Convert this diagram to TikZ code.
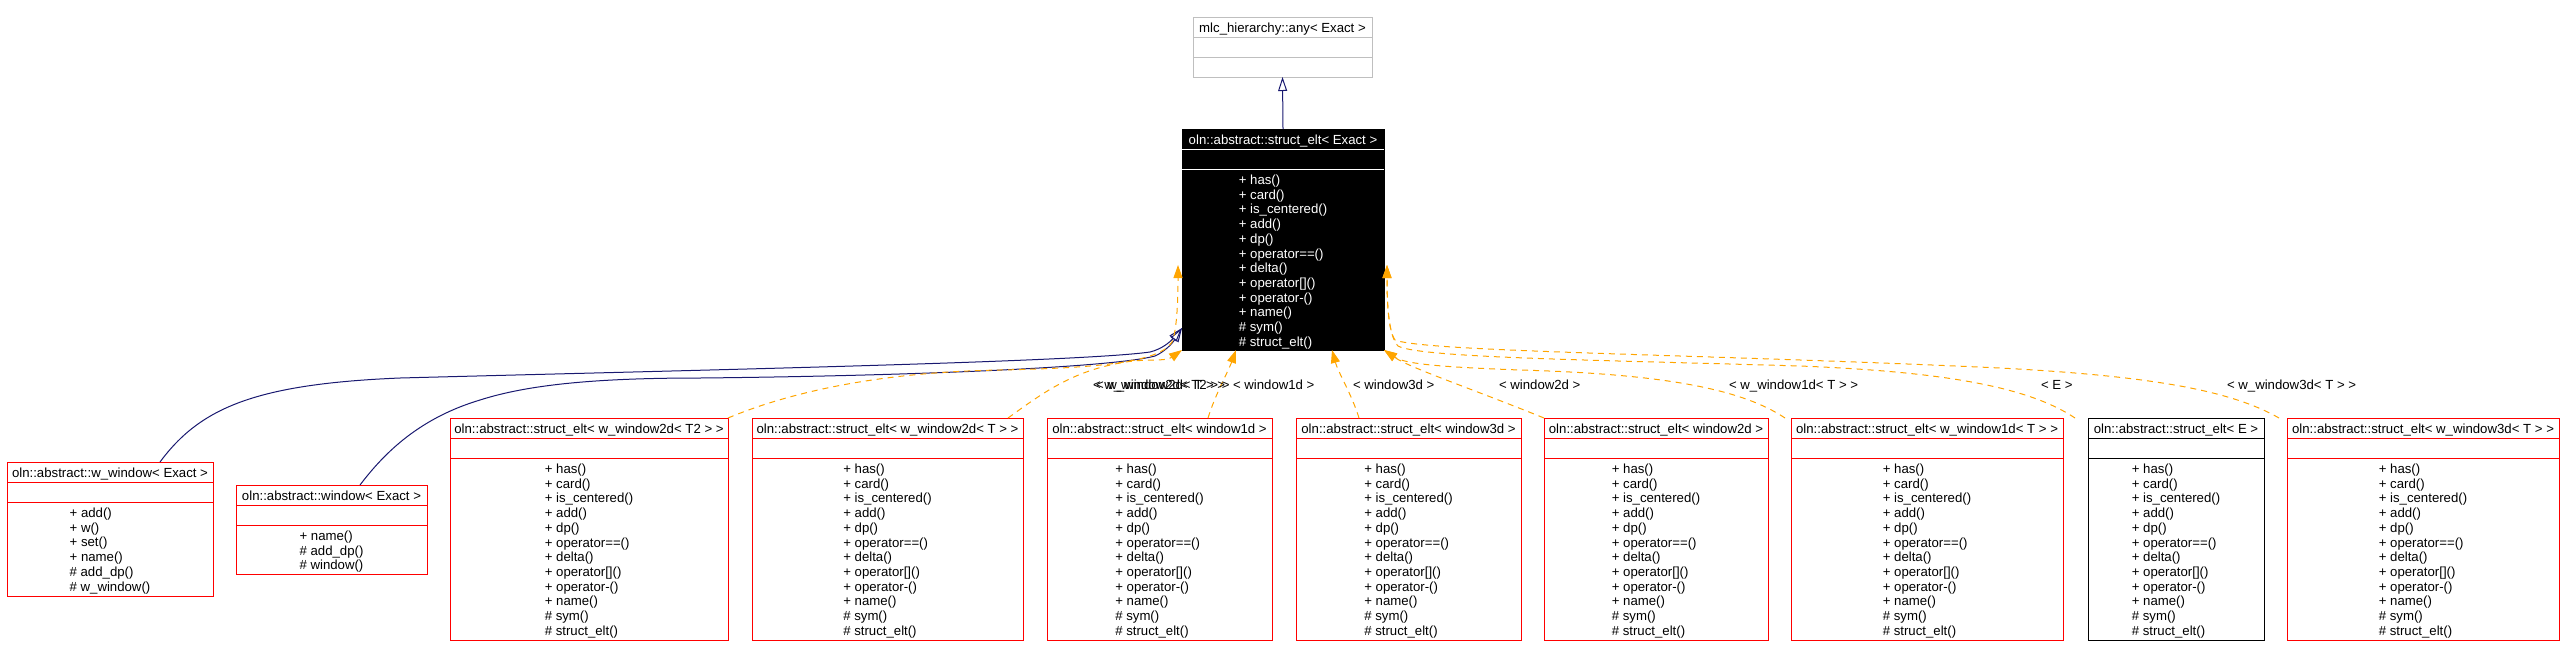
\documentclass[tikz,border=0pt]{standalone}
\usepackage{fontspec}
\setmainfont{Liberation Sans}
\usetikzlibrary{arrows.meta}
\definecolor{navy}{HTML}{191970}
\definecolor{orng}{HTML}{FFA500}
\definecolor{redb}{HTML}{FF0000}
\definecolor{grayb}{HTML}{BFBFBF}

% #1 name, #2 style, #3 x1, #4 y1, #5 x2, #6 y2, #7 title, #8 members
\newcommand{\umlbox}[8]{%
  \node[#2, anchor=north west, minimum width={#5-#3}, minimum height={#6-#4}] (#1) at (#3,#4) {};
  \draw[#2 sep] ([yshift=-20pt]#1.north west) -- ([yshift=-20pt]#1.north east)
                ([yshift=-40pt]#1.north west) -- ([yshift=-40pt]#1.north east);
  \node[#2 text, anchor=base] (#1-t) at ([yshift=-15.5pt]#1.north) {#7};
  \node[#2 text, align=left, anchor=north] (#1-m) at ([yshift=-46pt]#1.north) {#8};
}
\newcommand{\eltmembers}{+ has()\\+ card()\\+ is\_centered()\\+ add()\\+ dp()\\+ operator==()\\+ delta()\\+ operator[]()\\+ operator-()\\+ name()\\\# sym()\\\# struct\_elt()}

\begin{document}
\begin{tikzpicture}[x=1pt,y=-1pt,
  every node/.style={inner sep=0pt, outer sep=0pt},
  txt/.style={font=\fontsize{13.2}{14.7}\selectfont},
  redbox/.style={draw=redb, fill=white, line width=1pt},
  redbox sep/.style={draw=redb, line width=1pt},
  redbox text/.style={txt, text=black},
  ebox/.style={draw=black, fill=white, line width=1pt},
  ebox sep/.style={draw=black, line width=1pt},
  ebox text/.style={txt, text=black},
  graybox/.style={draw=grayb, fill=white, line width=1pt},
  graybox sep/.style={draw=grayb, line width=1pt},
  graybox text/.style={txt, text=black},
  blackbox/.style={draw=black, fill=black, line width=1pt},
  blackbox sep/.style={draw=white, line width=1pt},
  blackbox text/.style={txt, text=white},
  lbl/.style={txt, text=black},
  inh/.style={draw=navy, line width=1pt, -{Triangle[open,length=14pt,width=9pt]}},
  tmpl/.style={draw=orng, line width=1pt, dash pattern=on 6pt off 5pt, -{Triangle[length=13pt,width=9pt]}}
]
\useasboundingbox (0,0) rectangle (2565,657);

\umlbox{mlc}{graybox}{1193}{17}{1372}{77}{mlc\_hierarchy::any< Exact >}{}
\umlbox{elt}{blackbox}{1182}{129}{1384}{350}{oln::abstract::struct\_elt< Exact >}{\eltmembers}
\umlbox{ww}{redbox}{7}{462}{213}{596}{oln::abstract::w\_window< Exact >}{+ add()\\+ w()\\+ set()\\+ name()\\\# add\_dp()\\\# w\_window()}
\umlbox{win}{redbox}{236}{485}{427}{574}{oln::abstract::window< Exact >}{+ name()\\\# add\_dp()\\\# window()}
\umlbox{c1}{redbox}{450}{418}{728}{640}{oln::abstract::struct\_elt< w\_window2d< T2 > >}{\eltmembers}
\umlbox{c2}{redbox}{752}{418}{1023}{640}{oln::abstract::struct\_elt< w\_window2d< T > >}{\eltmembers}
\umlbox{c3}{redbox}{1047}{418}{1272}{640}{oln::abstract::struct\_elt< window1d >}{\eltmembers}
\umlbox{c4}{redbox}{1296}{418}{1521}{640}{oln::abstract::struct\_elt< window3d >}{\eltmembers}
\umlbox{c5}{redbox}{1544}{418}{1768}{640}{oln::abstract::struct\_elt< window2d >}{\eltmembers}
\umlbox{c6}{redbox}{1791}{418}{2063}{640}{oln::abstract::struct\_elt< w\_window1d< T > >}{\eltmembers}
\umlbox{c7}{ebox}{2088}{418}{2264}{640}{oln::abstract::struct\_elt< E >}{\eltmembers}
\umlbox{c8}{redbox}{2287}{418}{2559}{640}{oln::abstract::struct\_elt< w\_window3d< T > >}{\eltmembers}

% tips
\coordinate (tipN) at ([yshift=-88.5pt]elt.west);
\coordinate (tipL) at ([xshift=-4pt,yshift=-25.5pt]elt.west);
\coordinate (tipR) at ([xshift=3pt,yshift=-25.5pt]elt.east);

% inheritance
\draw[inh] (elt.north) -- (mlc.south);
\draw[inh] ([xshift=50pt]ww.north) .. controls (200,408) and (255,384) .. (400,378) .. controls (700,370) and (1080,362) .. (1150,352) .. controls (1162,349) and (1170,342) .. (tipN);
\draw[inh] ([xshift=28.5pt]win.north) .. controls (385,452) and (420,418) .. (480,400) .. controls (530,384) and (600,378) .. (700,378) .. controls (900,376) and (1110,368) .. (1155,356) .. controls (1164,352) and (1172,344) .. (tipN);

% template instances
\draw[tmpl] (c1.north east) .. controls (790,392) and (880,372) .. (1000,370) .. controls (1100,368) and (1160,362) .. (1172,342) .. controls (1177,330) and (1178,300) .. (tipL);
\draw[tmpl] ([xshift=-15pt]c2.north east) .. controls (1040,395) and (1070,372) .. (1120,363) .. controls (1145,358) and (1165,362) .. (elt.south west);
\draw[tmpl] ([xshift=48.5pt]c3.north) .. controls (1215,395) and (1228,372) .. ([xshift=-47pt]elt.south);
\draw[tmpl] ([xshift=-49.5pt]c4.north) .. controls (1352,395) and (1338,372) .. ([xshift=49pt]elt.south);
\draw[tmpl] (c5.north west) .. controls (1470,388) and (1410,368) .. (elt.south east);
\draw[tmpl] ([xshift=-6pt]c6.north west) .. controls (1740,388) and (1660,374) .. (1520,370) .. controls (1440,367) and (1405,364) .. (elt.south east);
\draw[tmpl] ([xshift=-13pt]c7.north west) .. controls (2030,388) and (1950,372) .. (1800,366) .. controls (1600,360) and (1420,358) .. (1398,346) .. controls (1388,336) and (1387,300) .. (tipR);
\draw[tmpl] ([xshift=-8pt]c8.north west) .. controls (2230,390) and (2150,376) .. (2000,368) .. controls (1700,354) and (1425,352) .. (1395,340) .. controls (1388,330) and (1387,300) .. (tipR);

% labels
\node[lbl, anchor=base west] (l1) at (1093,389) {< w\_window2d< T2 > >};
\node[lbl, anchor=base west] (l2) at (1096,389) {< w\_window2d< T > >};
\node[lbl, anchor=base west] (l3) at (1233,389) {< window1d >};
\node[lbl, anchor=base west] (l4) at (1353,389) {< window3d >};
\node[lbl, anchor=base west] (l5) at (1499,389) {< window2d >};
\node[lbl, anchor=base west] (l6) at (1729,389) {< w\_window1d< T > >};
\node[lbl, anchor=base west] (l7) at (2041,389) {< E >};
\node[lbl, anchor=base west] (l8) at (2227,389) {< w\_window3d< T > >};
\end{tikzpicture}
\end{document}
